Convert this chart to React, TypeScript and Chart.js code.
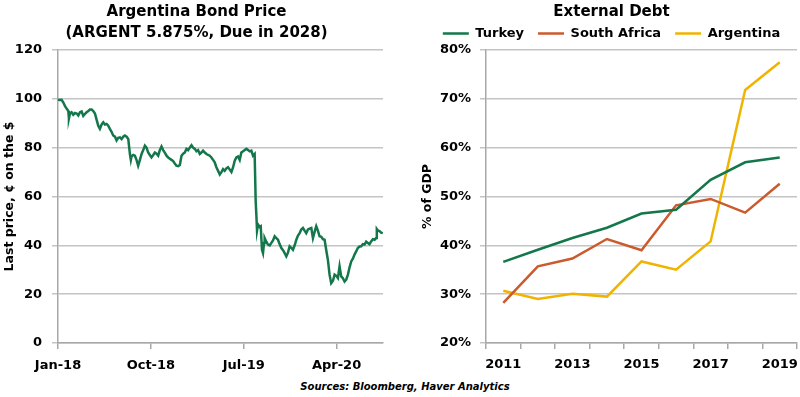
import React, { useEffect, useRef } from 'react';
import { Chart, registerables } from 'chart.js';

Chart.register(...registerables);

// ---------- Left chart: Argentina bond price ----------
const bondMonths = [
  0.0, 0.19, 0.35, 0.52, 0.68, 0.84, 1.0, 1.06, 1.16, 1.32,
  1.48, 1.65, 1.81, 1.97, 2.13, 2.29, 2.45, 2.61, 2.77, 2.94,
  3.1, 3.26, 3.42, 3.58, 3.74, 3.9, 4.06, 4.23, 4.39, 4.55,
  4.71, 4.87, 5.03, 5.19, 5.35, 5.52, 5.68, 5.84, 6.0, 6.16,
  6.32, 6.48, 6.65, 6.81, 6.97, 7.06, 7.13, 7.29, 7.45, 7.61,
  7.77, 7.94, 8.1, 8.26, 8.42, 8.58, 8.74, 8.9, 9.06, 9.23,
  9.39, 9.55, 9.71, 9.87, 10.03, 10.19, 10.35, 10.52, 10.68, 10.84,
  11.0, 11.16, 11.32, 11.48, 11.65, 11.81, 11.97, 12.13, 12.29, 12.45,
  12.61, 12.77, 12.94, 13.1, 13.26, 13.42, 13.58, 13.74, 13.9, 14.06,
  14.23, 14.39, 14.55, 14.71, 14.87, 15.03, 15.19, 15.35, 15.52, 15.68,
  15.84, 16.0, 16.16, 16.32, 16.48, 16.65, 16.81, 16.97, 17.13, 17.29,
  17.45, 17.61, 17.77, 17.94, 18.1, 18.26, 18.42, 18.58, 18.74, 18.9,
  19.06, 19.16, 19.23, 19.29, 19.39, 19.55, 19.65, 19.77, 19.87, 19.97,
  20.03, 20.19, 20.35, 20.52, 20.68, 20.84, 21.0, 21.16, 21.32, 21.48,
  21.65, 21.81, 21.97, 22.13, 22.29, 22.45, 22.61, 22.77, 22.94, 23.1,
  23.26, 23.42, 23.58, 23.74, 23.9, 24.06, 24.23, 24.39, 24.55, 24.71,
  24.87, 25.03, 25.19, 25.35, 25.52, 25.68, 25.84, 26.0, 26.16, 26.32,
  26.48, 26.65, 26.81, 26.97, 27.13, 27.29, 27.45, 27.61, 27.77, 27.94,
  28.1, 28.26, 28.42, 28.58, 28.74, 28.9, 29.06, 29.23, 29.39, 29.55,
  29.71, 29.87, 30.03, 30.19, 30.35, 30.52, 30.68, 30.84, 30.9, 31.03,
  31.16, 31.32, 31.48,
];

const bondPrices = [
  99.6, 99.5, 99.6, 98.5, 97.0, 96.0, 95.0, 92.0, 94.0, 94.5,
  93.5, 94.2, 94.0, 93.2, 94.5, 94.8, 93.0, 93.8, 94.5, 95.0,
  95.6, 95.6, 95.0, 94.0, 91.5, 89.0, 87.7, 89.5, 90.4, 89.5,
  89.7, 89.0, 87.7, 86.5, 85.0, 84.5, 83.0, 84.0, 84.2, 83.5,
  84.5, 85.0, 84.5, 83.6, 77.4, 75.0, 76.5, 77.0, 76.7, 75.0,
  72.6, 75.0, 77.4, 79.0, 80.8, 80.0, 78.0, 77.0, 76.0, 77.0,
  78.0, 77.5, 76.7, 79.0, 80.5, 79.0, 78.0, 76.7, 76.0, 75.5,
  75.0, 74.5, 73.5, 72.6, 72.4, 72.9, 76.7, 77.5, 78.0, 79.5,
  79.0, 80.0, 81.0, 80.0, 79.5, 78.5, 79.0, 77.4, 78.0, 78.8,
  78.0, 77.4, 77.0, 76.7, 76.0, 75.0, 74.0, 72.0, 70.5, 69.0,
  70.0, 71.2, 70.5, 71.5, 72.0, 71.0, 70.0, 72.0, 74.7, 76.0,
  76.4, 75.0, 78.0, 78.5, 79.0, 79.5, 79.0, 78.5, 78.8, 76.7,
  77.4, 58.0, 52.0, 46.0, 48.5, 47.5, 47.8, 38.2, 36.8, 41.0,
  43.0, 41.5, 40.3, 40.0, 41.0, 42.0, 43.7, 43.0, 42.3, 40.5,
  38.9, 38.0, 36.8, 35.5, 37.0, 39.6, 39.0, 38.2, 40.0, 42.3,
  44.0, 45.0, 46.5, 47.1, 46.0, 45.0, 46.5, 46.8, 47.1, 43.0,
  45.5, 47.8, 46.0, 43.7, 43.5, 42.5, 42.3, 38.0, 34.0, 28.0,
  24.5, 25.5, 28.0, 27.5, 26.6, 31.4, 27.3, 26.5, 25.2, 26.0,
  28.0, 31.0, 33.4, 34.5, 36.2, 37.5, 38.9, 39.5, 39.6, 40.5,
  40.3, 41.5, 41.0, 40.5, 41.6, 42.5, 42.3, 43.0, 46.7, 46.0,
  45.8, 45.2, 45.0,
];

const bondTickMonths = [0, 9, 18, 27];
const bondTickLabels = ['Jan-18', 'Oct-18', 'Jul-19', 'Apr-20'];
const bondTitle = ['Argentina Bond Price', '(ARGENT 5.875%, Due in 2028)'];
const bondAxisTitle = 'Last price, \u00a2 on the $';

// ---------- Right chart: External debt ----------
const debtYears = ['2011', '2012', '2013', '2014', '2015', '2016', '2017', '2018', '2019'];
const turkeyDebt = [36.6, 39.1, 41.5, 43.6, 46.5, 47.3, 53.4, 57.0, 58.0];
const southAfricaDebt = [28.2, 35.7, 37.3, 41.3, 39.0, 48.2, 49.5, 46.7, 52.6];
const argentinaDebt = [30.7, 29.0, 30.1, 29.5, 36.7, 35.0, 40.8, 71.8, 77.5];
const debtTitle = 'External Debt';
const debtAxisTitle = '% of GDP';
const sourceText = 'Sources: Bloomberg, Haver Analytics';

const FONT = 'DejaVu Sans';
const GRID = '#c4c4c4';
const AXIS = '#a8a8a8';
const GREEN = '#13774b';
const ORANGE = '#cb5a2c';
const GOLD = '#f0b400';

function BondChart() {
  const ref = useRef<HTMLCanvasElement>(null);
  useEffect(() => {
    if (!ref.current) return;
    const chart = new Chart(ref.current, {
      type: 'line',
      data: {
        datasets: [
          {
            data: bondMonths.map((m, i) => ({ x: m, y: bondPrices[i] })),
            borderColor: GREEN,
            backgroundColor: GREEN,
            borderWidth: 2.5,
            pointRadius: 0,
            tension: 0,
          },
        ],
      },
      options: {
        responsive: false,
        animation: false,
        devicePixelRatio: 1,
        layout: { padding: { left: 10, right: 17, top: 0, bottom: 0 } },
        plugins: {
          legend: { display: false },
          tooltip: { enabled: false },
          title: {
            display: true,
            text: bondTitle,
            color: '#000',
            font: { family: FONT, size: 15, weight: 'bold', lineHeight: 1.4 },
            padding: { top: 1.5, bottom: 6.5 },
          },
        },
        scales: {
          x: {
            type: 'linear',
            min: 0,
            max: 31.5,
            afterBuildTicks: (s: any) => {
              s.ticks = bondTickMonths.map((v) => ({ value: v }));
            },
            afterFit: (s: any) => {
              s.height = 32;
              s.paddingLeft = 0;
              s.paddingRight = 0;
            },
            ticks: {
              autoSkip: false,
              maxRotation: 0,
              padding: 9,
              color: '#000',
              font: { family: FONT, size: 13, weight: 'bold' },
              callback: (v: any) => {
                const i = bondTickMonths.indexOf(Number(v));
                return i >= 0 ? bondTickLabels[i] : '';
              },
            },
            grid: { drawOnChartArea: false, drawTicks: true, tickLength: 6, color: AXIS, lineWidth: 1.5 },
            border: { color: AXIS, width: 1.5 },
          },
          y: {
            min: 0,
            max: 120,
            afterFit: (s: any) => {
              s.width = 48;
            },
            ticks: {
              stepSize: 20,
              padding: 10,
              color: '#000',
              font: { family: FONT, size: 13, weight: 'bold' },
            },
            grid: { color: GRID, lineWidth: 1.5, tickLength: 6 },
            border: { color: AXIS, width: 1.5 },
            title: {
              display: true,
              text: bondAxisTitle,
              color: '#000',
              font: { family: FONT, size: 12.5, weight: 'bold' },
              padding: { top: -7.5, bottom: 0 },
            },
          },
        },
      },
    } as any);
    return () => chart.destroy();
  }, []);
  return <canvas ref={ref} width={400} height={375} style={{ display: 'block' }} />;
}

function DebtChart() {
  const ref = useRef<HTMLCanvasElement>(null);
  useEffect(() => {
    if (!ref.current) return;
    const mk = (label: string, data: number[], color: string) => ({
      label,
      data,
      borderColor: color,
      backgroundColor: color,
      borderWidth: 2.5,
      pointRadius: 0,
      tension: 0,
    });
    const chart = new Chart(ref.current, {
      type: 'line',
      data: {
        labels: debtYears,
        datasets: [
          mk('Turkey', turkeyDebt, GREEN),
          mk('South Africa', southAfricaDebt, ORANGE),
          mk('Argentina', argentinaDebt, GOLD),
        ],
      },
      options: {
        responsive: false,
        animation: false,
        devicePixelRatio: 1,
        layout: { padding: { left: 26, right: 3, top: 0, bottom: 0 } },
        plugins: {
          tooltip: { enabled: false },
          title: {
            display: true,
            text: debtTitle,
            color: '#000',
            font: { family: FONT, size: 15, weight: 'bold', lineHeight: 1.2 },
            padding: { top: 3.5, bottom: -8.5 },
          },
          legend: {
            display: true,
            position: 'top',
            labels: {
              usePointStyle: true,
              pointStyle: 'line',
              pointStyleWidth: 26,
              padding: 14,
              color: '#000',
              font: { family: FONT, size: 13, weight: 'bold' },
            },
          },
        },
        scales: {
          x: {
            type: 'category',
            offset: true,
            afterFit: (s: any) => {
              s.height = 32;
              s.paddingLeft = 0;
              s.paddingRight = 0;
            },
            ticks: {
              autoSkip: false,
              maxRotation: 0,
              padding: 8,
              color: '#000',
              font: { family: FONT, size: 13, weight: 'bold' },
              callback: (_v: any, i: number) => (i % 2 === 0 ? debtYears[i] : ''),
            },
            grid: { offset: true, drawOnChartArea: false, drawTicks: true, tickLength: 6, color: AXIS, lineWidth: 1.5 },
            border: { color: AXIS, width: 1.5 },
          },
          y: {
            min: 20,
            max: 80,
            afterFit: (s: any) => {
              s.width = 60;
            },
            ticks: {
              stepSize: 10,
              padding: 9,
              color: '#000',
              font: { family: FONT, size: 13, weight: 'bold' },
              callback: (v: any) => `${v}%`,
            },
            grid: { color: GRID, lineWidth: 1.5, tickLength: 6 },
            border: { color: AXIS, width: 1.5 },
            title: {
              display: true,
              text: debtAxisTitle,
              color: '#000',
              font: { family: FONT, size: 12.5, weight: 'bold' },
              padding: { top: -5.5, bottom: 0 },
            },
          },
        },
      },
    } as any);
    return () => chart.destroy();
  }, []);
  return <canvas ref={ref} width={400} height={375} style={{ display: 'block' }} />;
}

export default function App() {
  return (
    <div
      style={{
        position: 'fixed',
        left: 0,
        top: 0,
        width: 800,
        height: 397,
        background: '#fff',
        overflow: 'hidden',
      }}
    >
      <div style={{ position: 'absolute', left: 0, top: 0, width: 400, height: 375 }}>
        <BondChart />
      </div>
      <div style={{ position: 'absolute', left: 400, top: 0, width: 400, height: 375 }}>
        <DebtChart />
      </div>
      <div
        style={{
          position: 'absolute',
          left: 0,
          top: 380,
          width: 810,
          textAlign: 'center',
          fontFamily: FONT,
          fontSize: 10,
          fontWeight: 'bold',
          fontStyle: 'italic',
          lineHeight: '14px',
          color: '#000',
        }}
      >
        {sourceText}
      </div>
    </div>
  );
}
